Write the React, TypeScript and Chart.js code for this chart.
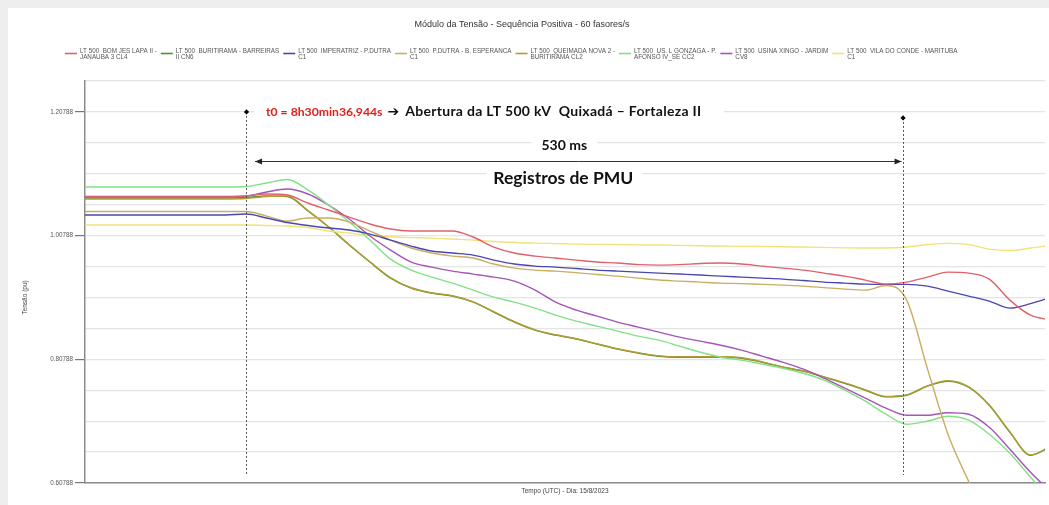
import React, { useEffect, useRef } from "react";
import { Chart, registerables } from "chart.js";

Chart.register(...registerables);

// ---------- texts ----------
const TITLE = "Módulo da Tensão - Sequência Positiva - 60 fasores/s";
const X_TITLE = "Tempo (UTC) - Dia: 15/8/2023";
const Y_TITLE = "Tensão (pu)";
const T0_TEXT = "t0 = 8h30min36,944s";
const EVENT_TEXT = "Abertura da LT 500 kV  Quixadá – Fortaleza II";
const WINDOW_TEXT = "530 ms";
const PMU_TEXT = "Registros de PMU";

// ---------- axes ----------
const SAMPLE_MS = 1000 / 60; // 60 fasores/s
const WINDOW_MS = 530;
const X_MIN = -7.8;
const X_MAX = 38.7;
const Y_MIN = 0.60788;
const Y_MAX = 1.25788;
const Y_STEP = 0.05;
const Y_TICK_LABELS = ["0.60788", "0.80788", "1.00788", "1.20788"];
const Y_LABEL_EVERY = 4;

// sample index (0 = t0)
const SAMPLES = [
  -8, -7, -6, -5, -4, -3, -2, -1,
  0, 1, 2, 3, 4, 5, 6, 7, 8, 9,
  10, 11, 12, 13, 14, 15, 16, 17, 18, 19,
  20, 21, 22, 23, 24, 25, 26, 27, 28, 29,
  30, 31, 32, 33, 34, 35, 36, 37, 38, 39,
];

// ---------- series ----------
const BOM_JESUS_LAPA = [
  1.0703, 1.0703, 1.0703, 1.0703, 1.0703, 1.0703, 1.0703, 1.0703,
  1.0719, 1.0752, 1.0735, 1.0606, 1.0493, 1.0379, 1.0266, 1.0185, 1.0153, 1.0153,
  1.0153, 1.0056, 0.9894, 0.9797, 0.9748, 0.9716, 0.9683, 0.9651, 0.9635, 0.961,
  0.9602, 0.961, 0.9627, 0.9635, 0.9619, 0.9586, 0.9554, 0.9521, 0.9473, 0.9424,
  0.936, 0.9295, 0.9327, 0.9408, 0.9489, 0.9473, 0.9376, 0.9036, 0.8793, 0.8712,
];
const BURITIRAMA_BARREIRAS = [
  1.0687, 1.0687, 1.0687, 1.0687, 1.0687, 1.0687, 1.0687, 1.0687,
  1.0695, 1.0719, 1.0711, 1.0477, 1.0217, 0.9926, 0.9651, 0.9392, 0.923, 0.9149,
  0.9101, 0.9003, 0.8842, 0.868, 0.855, 0.8469, 0.8405, 0.8324, 0.8243, 0.8178,
  0.8129, 0.8113, 0.8113, 0.8113, 0.8097, 0.8032, 0.7951, 0.7887, 0.779, 0.7692,
  0.7579, 0.7474, 0.7498, 0.7644, 0.7725, 0.7628, 0.7336, 0.6899, 0.6527, 0.6673,
];
const IMPERATRIZ_PDUTRA = [
  1.0412, 1.0412, 1.0412, 1.0412, 1.0412, 1.0412, 1.0412, 1.0412,
  1.0428, 1.0363, 1.029, 1.0242, 1.0201, 1.0169, 1.0104, 1.0007, 0.991, 0.9829,
  0.9797, 0.9764, 0.9683, 0.9619, 0.9586, 0.957, 0.9546, 0.9521, 0.9505, 0.9489,
  0.9473, 0.9457, 0.9441, 0.9424, 0.9408, 0.9392, 0.9376, 0.9352, 0.9327, 0.9311,
  0.9295, 0.929, 0.929, 0.9262, 0.9182, 0.9101, 0.902, 0.8906, 0.8979, 0.9084,
];
const PDUTRA_BESPERANCA = [
  1.0468, 1.0468, 1.0468, 1.0468, 1.0468, 1.0468, 1.0468, 1.0468,
  1.0468, 1.0395, 1.0315, 1.0363, 1.0363, 1.0298, 1.0153, 1.0007, 0.9878, 0.9797,
  0.9748, 0.9716, 0.9619, 0.9554, 0.9521, 0.9505, 0.9481, 0.9449, 0.9424, 0.9392,
  0.936, 0.9343, 0.9327, 0.9311, 0.9303, 0.929, 0.9279, 0.9262, 0.9238, 0.9214,
  0.9198, 0.9271, 0.9036, 0.7935, 0.6867, 0.6106, 0.5394, 0.4666, 0.395, 0.325,
];
const QUEIMADA_BURITIRAMA = [
  1.0672, 1.0672, 1.0672, 1.0672, 1.0672, 1.0672, 1.0672, 1.0672,
  1.068, 1.0712, 1.0717, 1.0483, 1.0223, 0.9932, 0.9657, 0.9398, 0.9236, 0.9155,
  0.9107, 0.9009, 0.8848, 0.8686, 0.8556, 0.8475, 0.8411, 0.833, 0.8249, 0.8184,
  0.8135, 0.8119, 0.8119, 0.8119, 0.8103, 0.8038, 0.7957, 0.7893, 0.7796, 0.7698,
  0.7585, 0.748, 0.7504, 0.765, 0.7731, 0.7634, 0.7342, 0.6905, 0.6533, 0.6679,
];
const GONZAGA_AFONSO = [
  1.0865, 1.0865, 1.0865, 1.0865, 1.0865, 1.0865, 1.0865, 1.0865,
  1.0873, 1.093, 1.0986, 1.0817, 1.0573, 1.0298, 1.0007, 0.9699, 0.9521, 0.9408,
  0.9311, 0.9198, 0.9084, 0.9003, 0.8906, 0.8793, 0.8696, 0.8615, 0.8534, 0.8453,
  0.8388, 0.8291, 0.8194, 0.8113, 0.8065, 0.8, 0.7935, 0.7854, 0.7741, 0.7579,
  0.7401, 0.7191, 0.7029, 0.7077, 0.7158, 0.7094, 0.6867, 0.6559, 0.6171, 0.5799,
];
const XINGO_JARDIM = [
  1.0711, 1.0711, 1.0711, 1.0711, 1.0711, 1.0711, 1.0711, 1.0711,
  1.0719, 1.0784, 1.0832, 1.0752, 1.0573, 1.0347, 1.0072, 0.9845, 0.9651, 0.957,
  0.9505, 0.9457, 0.9408, 0.9343, 0.9198, 0.9003, 0.8874, 0.8777, 0.868, 0.8599,
  0.8518, 0.8437, 0.8372, 0.8307, 0.8227, 0.8129, 0.8032, 0.7919, 0.7773, 0.7611,
  0.745, 0.7288, 0.7174, 0.7174, 0.7215, 0.7191, 0.698, 0.6624, 0.6252, 0.5928,
];
const VILA_CONDE_MARITUBA = [
  1.025, 1.025, 1.025, 1.025, 1.025, 1.025, 1.025, 1.025,
  1.025, 1.0242, 1.0234, 1.0209, 1.0153, 1.012, 1.008, 1.006, 1.0047, 1.0039,
  1.0023, 1.0007, 0.9983, 0.9967, 0.9958, 0.995, 0.9942, 0.9937, 0.9934, 0.9929,
  0.9926, 0.9921, 0.9915, 0.991, 0.9905, 0.9902, 0.9899, 0.9894, 0.9889, 0.9881,
  0.9878, 0.9878, 0.9894, 0.9934, 0.9953, 0.9934, 0.9861, 0.9837, 0.9878, 0.9926,
];

const SERIES_LABELS = [
  ["LT 500  BOM JES LAPA II -", "JANAUBA 3 CL4"],
  ["LT 500  BURITIRAMA - BARREIRAS", "II CN6"],
  ["LT 500  IMPERATRIZ - P.DUTRA", "C1"],
  ["LT 500  P.DUTRA - B. ESPERANCA", "C1"],
  ["LT 500  QUEIMADA NOVA 2 -", "BURITIRAMA CL2"],
  ["LT 500  US. L GONZAGA - P.", "AFONSO IV_SE CC2"],
  ["LT 500  USINA XINGO - JARDIM", "CV8"],
  ["LT 500  VILA DO CONDE - MARITUBA", "C1"],
];
const SERIES_VALUES = [
  BOM_JESUS_LAPA,
  BURITIRAMA_BARREIRAS,
  IMPERATRIZ_PDUTRA,
  PDUTRA_BESPERANCA,
  QUEIMADA_BURITIRAMA,
  GONZAGA_AFONSO,
  XINGO_JARDIM,
  VILA_CONDE_MARITUBA,
];
const SERIES_COLORS = [
  "#e0606c",
  "#4c9238",
  "#4a48b0",
  "#c9ae62",
  "#b49c32",
  "#84e084",
  "#a455b8",
  "#f1e27a",
];
// drawing order (higher = drawn underneath)
const SERIES_ORDER = [0, 2, 0, 0, 1, 0, 0, 0];

const FONT = '"Liberation Sans", Arial, sans-serif';
const ANN_FONT = 'Lato, "Open Sans", sans-serif';

const overlayPlugin = {
  id: "overlay",
  beforeDatasetsDraw(chart: any) {
    const ctx = chart.ctx as CanvasRenderingContext2D;
    const xs = chart.scales.x;
    const ys = chart.scales.y;
    const x0 = xs.getPixelForValue(0);
    const x1 = xs.getPixelForValue(WINDOW_MS / SAMPLE_MS);
    const yRef = ys.getPixelForValue(1.20788);
    const mid = (x0 + x1) / 2 - 10;
    ctx.save();
    ctx.fillStyle = "#ffffff";
    ctx.fillRect(x0 + 8, yRef - 8, 470, 16);
    ctx.font = `bold 14px ${ANN_FONT}`;
    const w2 = ctx.measureText(WINDOW_TEXT).width;
    ctx.fillRect(mid - w2 / 2 - 10, yRef + 23, w2 + 20, 22);
    ctx.font = `bold 17.5px ${ANN_FONT}`;
    const w3 = ctx.measureText(PMU_TEXT).width;
    ctx.fillRect(mid - w3 / 2 - 8, yRef + 55, w3 + 16, 24);
    ctx.restore();
  },
  afterDraw(chart: any) {
    const ctx = chart.ctx as CanvasRenderingContext2D;
    const area = chart.chartArea;
    const xs = chart.scales.x;
    const ys = chart.scales.y;
    ctx.save();

    // title
    ctx.fillStyle = "#333";
    ctx.font = `9px ${FONT}`;
    ctx.textAlign = "center";
    ctx.textBaseline = "middle";
    ctx.fillText(TITLE, (area.left + area.right) / 2 - 43, 17);

    // legend
    ctx.font = `6.3px ${FONT}`;
    ctx.textAlign = "left";
    let lx = area.left - 20;
    SERIES_LABELS.forEach((lines, i) => {
      ctx.strokeStyle = SERIES_COLORS[i];
      ctx.lineWidth = 1.6;
      ctx.beginPath();
      ctx.moveTo(lx, 45.5);
      ctx.lineTo(lx + 12, 45.5);
      ctx.stroke();
      ctx.fillStyle = "#555";
      const tx = lx + 15;
      ctx.fillText(lines[0], tx, 43.5);
      ctx.fillText(lines[1], tx, 49.5);
      const w = Math.max(...lines.map((l) => ctx.measureText(l).width));
      lx = tx + w + 4;
    });

    // y title
    ctx.save();
    ctx.translate(area.left - 60, ys.getPixelForValue(0.90788));
    ctx.rotate(-Math.PI / 2);
    ctx.textAlign = "center";
    ctx.fillStyle = "#444";
    ctx.font = `6.5px ${FONT}`;
    ctx.fillText(Y_TITLE, 0, 0);
    ctx.restore();

    // annotations
    const x0 = xs.getPixelForValue(0);
    const x1 = xs.getPixelForValue(WINDOW_MS / SAMPLE_MS);
    const yRef = ys.getPixelForValue(1.20788);
    const mid = (x0 + x1) / 2 - 10;

    // dashed verticals
    ctx.strokeStyle = "#555";
    ctx.lineWidth = 1;
    ctx.setLineDash([2, 2]);
    [[x0, yRef], [x1, yRef + 6]].forEach(([x, y]) => {
      ctx.beginPath();
      ctx.moveTo(Math.round(x) + 0.5, y);
      ctx.lineTo(Math.round(x) + 0.5, area.bottom - 8);
      ctx.stroke();
    });
    ctx.setLineDash([]);
    ctx.fillStyle = "#000";
    [[x0, yRef], [x1, yRef + 6]].forEach(([x, y]) => {
      const r = 2.6;
      ctx.beginPath();
      ctx.moveTo(x + 0.5, y - r);
      ctx.lineTo(x + 0.5 + r, y);
      ctx.lineTo(x + 0.5, y + r);
      ctx.lineTo(x + 0.5 - r, y);
      ctx.closePath();
      ctx.fill();
    });

    // t0 line
    ctx.textBaseline = "middle";
    ctx.textAlign = "left";
    ctx.font = `bold 12.2px ${ANN_FONT}`;
    let tx = x0 + 20;
    ctx.fillStyle = "#e0201c";
    ctx.fillText(T0_TEXT, tx, yRef);
    tx += ctx.measureText(T0_TEXT).width + 5;
    ctx.fillStyle = "#111";
    ctx.font = `bold 14px "DejaVu Sans", sans-serif`;
    ctx.fillText("➔", tx, yRef);
    tx += ctx.measureText("➔").width + 6;
    ctx.font = `bold 14px ${ANN_FONT}`;
    (ctx as any).letterSpacing = "0.3px";
    ctx.fillText(EVENT_TEXT, tx, yRef);
    (ctx as any).letterSpacing = "0px";

    // 530 ms
    ctx.textAlign = "center";
    ctx.font = `bold 14px ${ANN_FONT}`;
    ctx.fillText(WINDOW_TEXT, mid, yRef + 34);

    // double arrow
    const ay = Math.round(yRef + 49) + 0.5;
    const ax0 = x0 + 9;
    const ax1 = x1 - 1;
    ctx.strokeStyle = "#333";
    ctx.lineWidth = 1;
    ctx.beginPath();
    ctx.moveTo(ax0, ay);
    ctx.lineTo(ax1, ay);
    ctx.stroke();
    ctx.fillStyle = "#222";
    ctx.beginPath();
    ctx.moveTo(ax0, ay);
    ctx.lineTo(ax0 + 7, ay - 3);
    ctx.lineTo(ax0 + 7, ay + 3);
    ctx.closePath();
    ctx.fill();
    ctx.beginPath();
    ctx.moveTo(ax1, ay);
    ctx.lineTo(ax1 - 7, ay - 3);
    ctx.lineTo(ax1 - 7, ay + 3);
    ctx.closePath();
    ctx.fill();

    // PMU
    ctx.fillStyle = "#111";
    ctx.font = `bold 17.5px ${ANN_FONT}`;
    ctx.fillText(PMU_TEXT, mid - 1, yRef + 66);

    ctx.restore();
  },
};

export default function App() {
  const ref = useRef<HTMLCanvasElement>(null);

  useEffect(() => {
    document.body.style.margin = "8px 0 0 8px";
    document.body.style.background = "#eeeeee";

    const yGrid: number[] = [];
    const nGrid = Math.round((Y_MAX - Y_MIN) / Y_STEP);
    for (let i = 0; i <= nGrid; i++) yGrid.push(Y_MIN + i * Y_STEP);

    const datasets = SERIES_VALUES.map((vals, i) => ({
      label: SERIES_LABELS[i].join(" "),
      data: vals.map((v, j) => ({ x: SAMPLES[j], y: v })),
      borderColor: SERIES_COLORS[i],
      backgroundColor: SERIES_COLORS[i],
      borderWidth: 1.4,
      pointRadius: 0,
      order: SERIES_ORDER[i],
      cubicInterpolationMode: "monotone" as const,
      fill: false,
    }));

    const chart = new Chart(ref.current as HTMLCanvasElement, {
      type: "line",
      data: { datasets },
      plugins: [overlayPlugin],
      options: {
        animation: false,
        responsive: true,
        maintainAspectRatio: false,
        layout: { padding: { top: 73, right: 4, left: 0, bottom: 0 } },
        plugins: {
          legend: { display: false },
          title: { display: false },
          tooltip: { enabled: false },
        },
        scales: {
          x: {
            type: "linear",
            min: X_MIN,
            max: X_MAX,
            ticks: { display: false },
            grid: { display: false, drawTicks: false },
            border: { display: true, color: "#8c8c8c", width: 1.5 },
            title: {
              display: true,
              text: X_TITLE,
              color: "#444",
              font: { size: 6.5, family: FONT },
              padding: { top: 0, bottom: 10 },
            },
            afterFit: (s: any) => {
              s.height = 22;
            },
          },
          y: {
            type: "linear",
            min: Y_MIN,
            max: Y_MAX,
            afterBuildTicks: (s: any) => {
              s.ticks = yGrid.map((v) => ({ value: v }));
            },
            ticks: {
              autoSkip: false,
              padding: 2,
              color: "#555",
              font: { size: 6.3, family: FONT },
              callback: (_v: any, i: number) =>
                i % Y_LABEL_EVERY === 0 ? Y_TICK_LABELS[i / Y_LABEL_EVERY] : "",
            },
            grid: {
              color: "#e4e4e4",
              lineWidth: 1.2,
              tickLength: 10,
              tickColor: (c: any) =>
                c.index % Y_LABEL_EVERY === 0 ? "#777" : "rgba(0,0,0,0)",
            },
            border: { color: "#8c8c8c", width: 1.5 },
            afterFit: (s: any) => {
              s.width = 77;
            },
          },
        },
      },
    });
    return () => chart.destroy();
  }, []);

  return (
    <div style={{ width: 1041, height: 497, background: "#ffffff", position: "relative" }}>
      <canvas ref={ref} />
    </div>
  );
}
